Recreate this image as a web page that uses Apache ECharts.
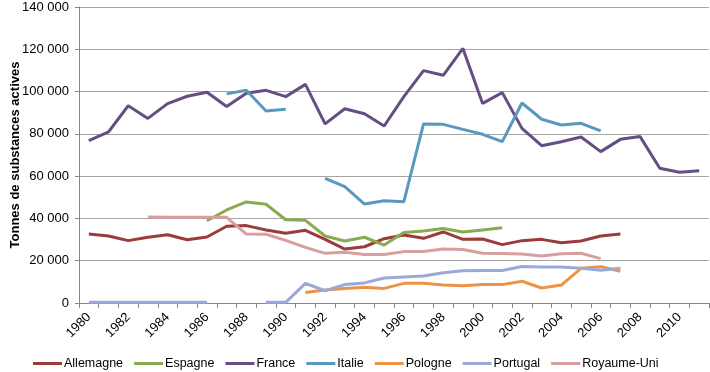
<!DOCTYPE html>
<html><head><meta charset="utf-8">
<script src="https://cdn.jsdelivr.net/npm/echarts@6/dist/echarts.min.js"></script>
<style>html,body{margin:0;padding:0;background:#fff}#c{width:710px;height:372px}</style>
</head><body><div id="c"></div>
<script>
const years = ['1980','1981','1982','1983','1984','1985','1986','1987','1988','1989','1990','1991','1992','1993','1994','1995','1996','1997','1998','1999','2000','2001','2002','2003','2004','2005','2006','2007','2008','2009','2010','2011'];
const yTicks = [0,20000,40000,60000,80000,100000,120000,140000];
const allemagne = [32600,31700,29500,31100,32300,29900,31200,36300,36600,34500,33000,34400,30100,25500,26600,30400,32200,30600,33600,30100,30300,27600,29500,30100,28500,29300,31700,32600,null,null,null,null];
const espagne = [null,null,null,null,null,null,38900,44000,47800,46700,39400,39100,31700,29300,31100,27400,33300,34100,35200,33600,34500,35600,null,null,null,null,null,null,null,null,null,null];
const france = [76800,80900,93300,87300,94300,97800,99700,92900,99200,100600,97600,103400,84700,91900,89500,83700,97600,109900,107700,120400,94400,99500,82600,74400,76300,78500,71600,77400,78700,63700,61800,62600];
const italie = [null,null,null,null,null,null,null,98900,100600,90800,91600,null,59000,55000,46800,48400,47900,84700,84500,82100,79800,76300,94600,86900,84200,85000,81400,null,null,null,null,null];
const pologne = [null,null,null,null,null,null,null,null,null,null,null,5000,6100,6900,7400,6900,9300,9300,8500,8200,8700,8700,10300,7100,8500,16400,17200,15000,null,null,null,null];
const portugal = [300,300,300,300,300,300,300,null,null,300,300,9300,5800,8700,9500,11800,12300,12800,14300,15300,15400,15400,17300,17000,17000,16400,15500,16400,null,null,null,null];
const royaumeUni = [null,null,null,40700,40600,40600,40600,40500,32600,32500,29600,26300,23500,24000,22900,22900,24300,24400,25500,25300,23500,23400,23200,22200,23300,23500,21000,null,null,null,null,null];

const names = ['Allemagne','Espagne','France','Italie','Pologne','Portugal','Royaume-Uni'];
const datasets = [allemagne, espagne, france, italie, pologne, portugal, royaumeUni];
const colors = ['#9B3B3A','#8AAA4F','#654E84','#5999BE','#EC9445','#98A9DA','#D7A09E'];

const fmt = v => String(v).replace(/\B(?=(\d{3})+(?!\d))/g, ' ');
const chart = echarts.init(document.getElementById('c'));
chart.setOption({
  animation: false,
  color: colors,
  textStyle: { fontFamily: 'Liberation Sans, Arial, sans-serif' },
  grid: { left: 79, right: 1, top: 7, bottom: 69, containLabel: false, outerBoundsMode: 'none' },
  legend: {
    left: 28, top: 352,
    itemWidth: 29, itemHeight: 3, itemGap: 11, icon: 'rect',
    textStyle: { fontSize: 12.5, color: '#000', padding: [0,0,0,-3] },
    data: names
  },
  xAxis: {
    type: 'category', data: years, boundaryGap: true,
    axisLine: { lineStyle: { color: '#868686' } },
    axisTick: { show: true, alignWithLabel: false, interval: 0, length: 5, lineStyle: { color: '#868686' } },
    axisLabel: { interval: 1, rotate: 45, fontSize: 13, color: '#000', margin: 12 }
  },
  yAxis: {
    type: 'value', min: yTicks[0], max: yTicks[yTicks.length-1], interval: 20000,
    name: 'Tonnes de substances actives', nameLocation: 'middle', nameGap: 57, nameMoveOverlap: false,
    nameTextStyle: { fontSize: 13, fontWeight: 'bold', color: '#000' },
    axisLine: { show: true, lineStyle: { color: '#868686' } },
    axisTick: { show: true, length: 4, lineStyle: { color: '#868686' } },
    axisLabel: { fontSize: 13, color: '#000', margin: 10, formatter: fmt },
    splitLine: { lineStyle: { color: '#A6A6A6', width: 1 } }
  },
  series: names.map((n, i) => ({
    name: n, type: 'line', data: datasets[i], showSymbol: false, symbol: 'none',
    connectNulls: false, lineStyle: { width: 3, color: colors[i] }, itemStyle: { color: colors[i] }
  }))
});
</script></body></html>
